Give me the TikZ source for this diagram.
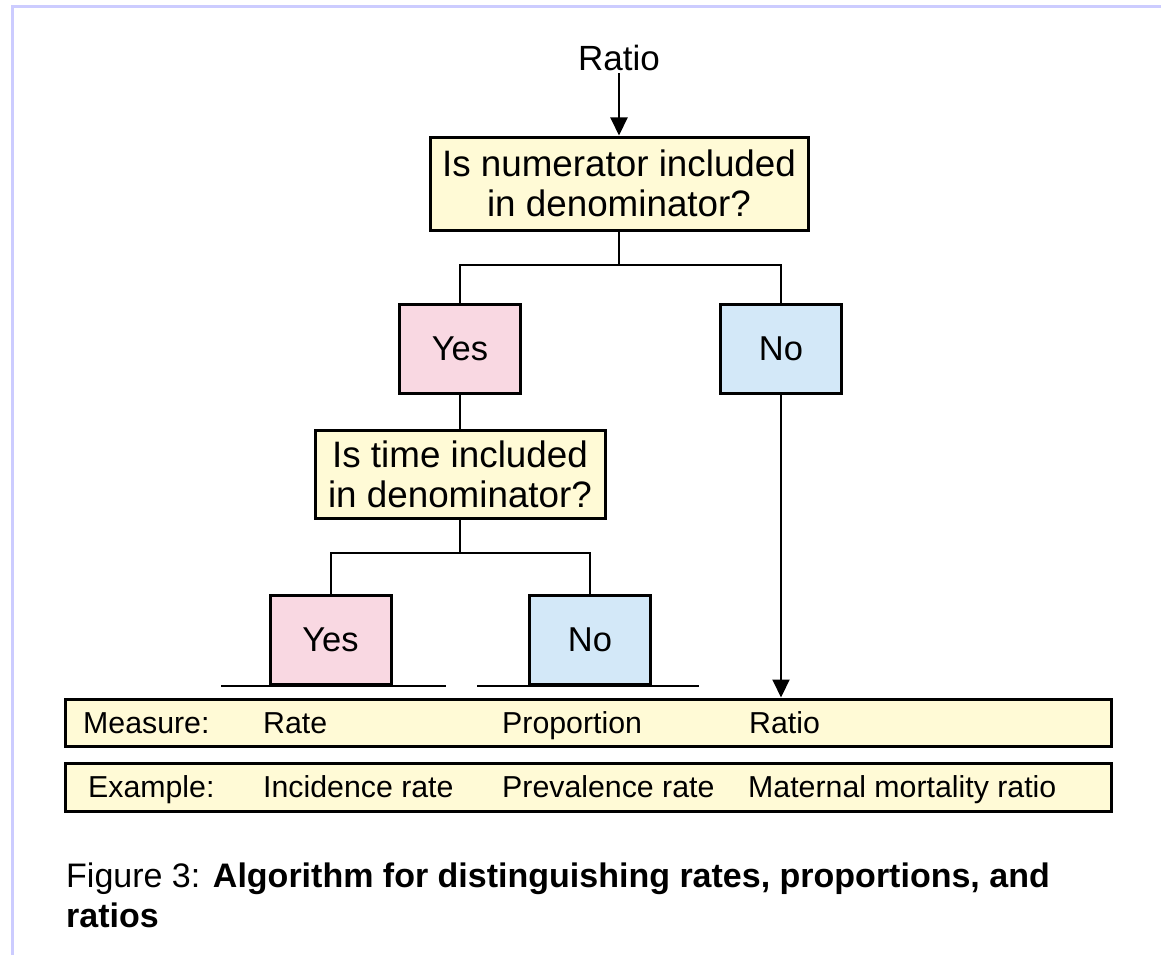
\documentclass[tikz,border=0pt]{standalone}
\usepackage{fontspec}
\setmainfont{Liberation Sans}
\usetikzlibrary{arrows.meta}
\definecolor{bord}{HTML}{CCCCFF}
\definecolor{qyel}{HTML}{FFFAD6}
\definecolor{ypink}{HTML}{F9D8E2}
\definecolor{nblue}{HTML}{D3E8F8}
\begin{document}
\begin{tikzpicture}[x=1pt,y=-1pt,
  box/.style={draw=black, line width=3pt, inner sep=0pt, align=center,
    font=\fontsize{36.8}{40}\selectfont},
  qbox/.style={box, fill=qyel},
  ybox/.style={box, fill=ypink, minimum width=121pt, minimum height=89pt, font=\fontsize{34.5}{38}\selectfont},
  nbox/.style={box, fill=nblue, minimum width=121pt, minimum height=89pt, font=\fontsize{34.5}{38}\selectfont},
  rowbox/.style={draw=black, line width=3pt, fill=qyel, minimum width=1046pt, inner sep=0pt},
  conn/.style={draw=black, line width=2pt},
  arr/.style={conn, -{Triangle[length=18pt,width=17pt]}},
  rowtxt/.style={anchor=base west, inner sep=0pt, font=\fontsize{30.3}{34}\selectfont},
  captxt/.style={anchor=base west, inner sep=0pt, font=\fontsize{34}{40}\selectfont}
]
\useasboundingbox (0,0) rectangle (1161,955);
\fill[white] (0,0) rectangle (1161,955);
% page border
\draw[bord, line width=3pt] (12.5,955) -- (12.5,6.5) -- (1161,6.5);

% nodes
\node[font=\fontsize{35}{40}\selectfont, inner sep=2pt] (ratio) at (619,58) {Ratio};
\node[qbox, minimum width=378pt, minimum height=93pt] (q1) at (619,183.5)
  {Is numerator included\\in denominator?};
\node[ybox] (yes1) at (460,348.5) {Yes};
\node[nbox] (no1) at (781,348.5) {No};
\node[qbox, minimum width=290pt, minimum height=88pt] (q2) at (460,474)
  {Is time included\\in denominator?};
\node[ybox] (yes2) at (330.5,639.5) {Yes};
\node[nbox] (no2) at (590,639.5) {No};
\node[rowbox, minimum height=47pt] (meas) at (588,722.5) {};
\node[rowbox, minimum height=48pt] (ex) at (588,787) {};

% connectors
\coordinate (j1) at (619,265);
\coordinate (j2) at (460,553);
\draw[arr] (ratio.south) -- (q1.north);
\draw[conn] (q1.south) -- (j1);
\draw[conn] (yes1.north) |- (j1) -| (no1.north);
\draw[conn] (yes1.south) -- (q2.north);
\draw[conn] (q2.south) -- (j2);
\draw[conn] (yes2.north) |- (j2) -| (no2.north);
\draw[arr] (no1.south) -- (no1.south |- meas.north);

% base lines under bottom boxes
\coordinate (u1a) at (221,686);
\coordinate (u1b) at (446,686);
\coordinate (u2a) at (477,686);
\coordinate (u2b) at (699,686);
\draw[conn] (u1a) -- (u1b);
\draw[conn] (u2a) -- (u2b);

% table rows
\node[rowtxt] (m0) at (83,733) {Measure:};
\node[rowtxt] (m1) at (263,733) {Rate};
\node[rowtxt] (m2) at (502,733) {Proportion};
\node[rowtxt] (m3) at (749,733) {Ratio};
\node[rowtxt] (e0) at (88,797) {Example:};
\node[rowtxt] (e1) at (263,797) {Incidence rate};
\node[rowtxt] (e2) at (502,797) {Prevalence rate};
\node[rowtxt] (e3) at (748,797) {Maternal mortality ratio};

% caption
\node[captxt] (cap1) at (66,887) {Figure 3: \textbf{Algorithm for distinguishing rates, proportions, and}};
\node[captxt] (cap2) at (66,927) {\textbf{ratios}};
\end{tikzpicture}
\end{document}
